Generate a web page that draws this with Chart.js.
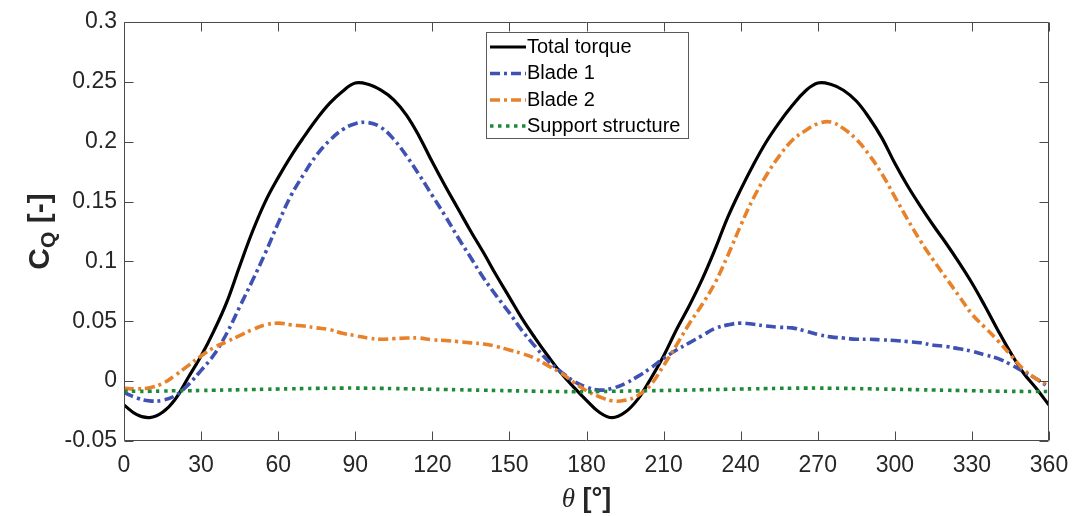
<!DOCTYPE html>
<html>
<head>
<meta charset="utf-8">
<script src="https://cdn.jsdelivr.net/npm/chart.js@4.4.1/dist/chart.umd.min.js"></script>
<style>
  html, body { margin: 0; padding: 0; background: #ffffff; }
  #wrap { width: 1072px; height: 516px; }
</style>
</head>
<body>
<div id="wrap"><canvas id="c" width="1072" height="516"></canvas></div>
<script>
// ---------- DATA ----------
const theta = [0,5,10,15,20,25,30,35,40,45,50,55,60,65,70,75,80,85,90,95,100,105,110,115,120,125,130,135,140,145,150,155,160,165,170,175,180,185,190,195,200,205,210,215,220,225,230,235,240,245,250,255,260,265,270,275,280,285,290,295,300,305,310,315,320,325,330,335,340,345,350,355,360];

const totalTorque = [-0.020,-0.028,-0.0305,-0.026,-0.015,0.003,0.021,0.042,0.066,0.096,0.125,0.150,0.170,0.188,0.204,0.219,0.232,0.242,0.249,0.248,0.243,0.235,0.222,0.204,0.183,0.163,0.144,0.125,0.107,0.088,0.070,0.052,0.036,0.021,0.007,-0.005,-0.016,-0.026,-0.0305,-0.026,-0.015,0.002,0.021,0.043,0.063,0.085,0.110,0.137,0.160,0.181,0.200,0.216,0.230,0.242,0.249,0.248,0.243,0.234,0.220,0.203,0.182,0.163,0.146,0.130,0.115,0.099,0.082,0.063,0.043,0.024,0.007,-0.006,-0.020];

const blade1 = [-0.0095,-0.014,-0.0165,-0.016,-0.012,-0.003,0.009,0.022,0.040,0.062,0.084,0.107,0.132,0.155,0.173,0.189,0.201,0.210,0.215,0.216,0.212,0.202,0.188,0.172,0.155,0.138,0.120,0.103,0.086,0.071,0.057,0.042,0.029,0.017,0.008,0.000,-0.005,-0.0075,-0.006,-0.002,0.004,0.011,0.019,0.026,0.032,0.038,0.044,0.047,0.0485,0.0475,0.046,0.045,0.0445,0.042,0.039,0.037,0.036,0.035,0.035,0.0345,0.034,0.033,0.032,0.030,0.029,0.027,0.025,0.022,0.019,0.014,0.008,0.002,-0.005];

const blade2 = [-0.006,-0.0065,-0.0055,-0.002,0.005,0.013,0.021,0.028,0.033,0.038,0.043,0.047,0.0485,0.047,0.046,0.0445,0.043,0.040,0.038,0.036,0.035,0.0355,0.036,0.036,0.0345,0.034,0.033,0.032,0.031,0.029,0.026,0.023,0.019,0.013,0.007,-0.001,-0.008,-0.013,-0.0165,-0.016,-0.012,-0.003,0.013,0.030,0.048,0.064,0.082,0.105,0.130,0.153,0.172,0.188,0.201,0.209,0.215,0.2165,0.211,0.202,0.189,0.173,0.154,0.135,0.117,0.101,0.086,0.071,0.056,0.045,0.034,0.022,0.010,0.002,-0.004];

const supportStructure = [-0.0085,-0.0085,-0.0085,-0.0083,-0.008,-0.008,-0.0078,-0.0076,-0.0074,-0.0072,-0.007,-0.0068,-0.0066,-0.0064,-0.0062,-0.006,-0.0059,-0.0058,-0.0058,-0.0059,-0.006,-0.0062,-0.0064,-0.0066,-0.0068,-0.007,-0.0072,-0.0074,-0.0076,-0.0078,-0.008,-0.0082,-0.0084,-0.0086,-0.0087,-0.0088,-0.0088,-0.0087,-0.0085,-0.0083,-0.0081,-0.008,-0.0078,-0.0076,-0.0074,-0.0072,-0.007,-0.0068,-0.0066,-0.0064,-0.0062,-0.006,-0.0059,-0.0058,-0.0058,-0.0059,-0.006,-0.0062,-0.0064,-0.0066,-0.0068,-0.007,-0.0072,-0.0074,-0.0076,-0.0078,-0.008,-0.0082,-0.0084,-0.0085,-0.0086,-0.0087,-0.0087];

const seriesLabels = ['Total torque', 'Blade 1', 'Blade 2', 'Support structure'];
const xTickLabels = ['0','30','60','90','120','150','180','210','240','270','300','330','360'];
const yTickLabels = ['-0.05','0','0.05','0.1','0.15','0.2','0.25','0.3'];

// ---------- CHART ----------
const toXY = arr => theta.map((t, i) => ({ x: t, y: arr[i] }));
const TXT = '#262626';
const SANS = '"Liberation Sans", Arial, Helvetica, sans-serif';

const framePlugin = {
  id: 'frame',
  afterDatasetsDraw(chart) {
    const { ctx, chartArea: a, scales } = chart;
    const xs = scales.x, ys = scales.y;
    const L = Math.round(a.left) + 0.5, R = Math.round(a.right) - 0.5;
    const T = Math.round(a.top) + 0.5, B = Math.round(a.bottom) - 0.5;
    const tl = 9;
    ctx.save();
    ctx.strokeStyle = '#4a4a4a';
    ctx.lineWidth = 1;
    ctx.beginPath();
    ctx.rect(L, T, R - L, B - T);
    ctx.stroke();
    ctx.beginPath();
    xs.ticks.forEach(t => {
      const px = Math.round(xs.getPixelForValue(t.value)) + 0.5;
      ctx.moveTo(px, B); ctx.lineTo(px, B - tl);
      ctx.moveTo(px, T); ctx.lineTo(px, T + tl);
    });
    ys.ticks.forEach(t => {
      const py = Math.round(ys.getPixelForValue(t.value)) + 0.5;
      ctx.moveTo(L, py); ctx.lineTo(L + tl, py);
      ctx.moveTo(R, py); ctx.lineTo(R - tl, py);
    });
    ctx.stroke();
    ctx.restore();
  },
  afterDraw(chart) {
    const { ctx, chartArea: a } = chart;
    ctx.save();
    // ---- y axis title: C_Q [-] ----
    const cy = (a.top + a.bottom) / 2;
    ctx.translate(41, cy);
    ctx.rotate(-Math.PI / 2);
    ctx.fillStyle = TXT;
    ctx.textBaseline = 'middle';
    const big = 'bold 30px ' + SANS, small = 'bold 21px ' + SANS;
    ctx.font = big; const wC = ctx.measureText('C').width;
    ctx.font = small; const wQ = ctx.measureText('Q').width;
    ctx.font = big; const wB = ctx.measureText(' [-]').width;
    let x0 = -(wC + wQ + wB) / 2;
    ctx.font = big; ctx.textAlign = 'left';
    ctx.fillText('C', x0, 0);
    ctx.font = small; ctx.fillText('Q', x0 + wC, 8);
    ctx.font = big; ctx.fillText(' [-]', x0 + wC + wQ, 0);
    ctx.restore();

    // ---- x axis title: θ [°] ----
    ctx.save();
    ctx.fillStyle = TXT;
    ctx.textBaseline = 'middle';
    const fTh = 'italic 27px "Liberation Serif", "DejaVu Serif", serif';
    const fBr = 'bold 27px ' + SANS;
    ctx.font = fTh; const wT = ctx.measureText('\u03B8').width;
    ctx.font = fBr; const wBr = ctx.measureText(' [\u00B0]').width;
    const cx = (a.left + a.right) / 2;
    let sx = cx - (wT + wBr) / 2;
    ctx.textAlign = 'left';
    ctx.font = fTh; ctx.fillText('\u03B8', sx, 500);
    ctx.font = fBr; ctx.fillText(' [\u00B0]', sx + wT, 500);
    ctx.restore();

    // ---- legend ----
    ctx.save();
    const bx = 486.5, by = 32.5, bw = 202, bh = 106;
    ctx.fillStyle = '#ffffff';
    ctx.fillRect(bx, by, bw, bh);
    ctx.strokeStyle = '#5a5a5a';
    ctx.lineWidth = 1;
    ctx.strokeRect(bx, by, bw, bh);
    const rowY = [47, 73.5, 100, 126];
    chart.data.datasets.forEach((ds, i) => {
      const y = rowY[i];
      ctx.save();
      ctx.strokeStyle = ds.borderColor;
      ctx.lineWidth = ds.borderWidth;
      ctx.setLineDash(ds.borderDash || []);
      ctx.lineCap = 'butt';
      ctx.beginPath();
      ctx.moveTo(490, y); ctx.lineTo(526, y);
      ctx.stroke();
      ctx.restore();
      ctx.fillStyle = '#000000';
      ctx.font = '20px ' + SANS;
      ctx.textBaseline = 'middle';
      ctx.textAlign = 'left';
      ctx.fillText(ds.label, 527, y);
    });
    ctx.restore();
  }
};

new Chart(document.getElementById('c'), {
  type: 'line',
  data: {
    datasets: [
      { label: seriesLabels[0], data: toXY(totalTorque), borderColor: '#000000', borderWidth: 3.2, borderDash: [], order: 4 },
      { label: seriesLabels[1], data: toXY(blade1), borderColor: '#3f51b2', borderWidth: 3.6, borderDash: [10, 4, 3, 4], order: 3 },
      { label: seriesLabels[2], data: toXY(blade2), borderColor: '#e8822a', borderWidth: 3.6, borderDash: [10, 4, 3, 4], order: 2 },
      { label: seriesLabels[3], data: toXY(supportStructure), borderColor: '#1c8a36', borderWidth: 3.6, borderDash: [3.5, 4.5], order: 1 }
    ]
  },
  options: {
    responsive: false,
    animation: false,
    devicePixelRatio: 1,
    layout: { padding: { left: 0, right: 23, top: 22, bottom: 0 } },
    elements: {
      point: { radius: 0 },
      line: { tension: 0.4, borderCapStyle: 'butt', fill: false }
    },
    plugins: { legend: { display: false }, tooltip: { enabled: false } },
    scales: {
      x: {
        type: 'linear', min: 0, max: 360,
        border: { display: false },
        grid: { display: false, drawTicks: true, tickLength: 11 },
        ticks: {
          stepSize: 30, padding: 0, color: TXT, maxRotation: 0, autoSkip: false,
          font: { family: SANS, size: 23 },
          callback: (v, i) => xTickLabels[i] !== undefined ? xTickLabels[i] : String(v)
        },
        afterFit: s => { s.height = 75; }
      },
      y: {
        type: 'linear', min: -0.05, max: 0.3,
        border: { display: false },
        grid: { display: false, drawTicks: true, tickLength: 7 },
        ticks: {
          stepSize: 0.05, padding: 0, color: TXT, autoSkip: false,
          font: { family: SANS, size: 23 },
          callback: (v, i) => yTickLabels[i] !== undefined ? yTickLabels[i] : String(v)
        },
        afterFit: s => { s.width = 124; }
      }
    }
  },
  plugins: [framePlugin]
});
</script>
</body>
</html>
